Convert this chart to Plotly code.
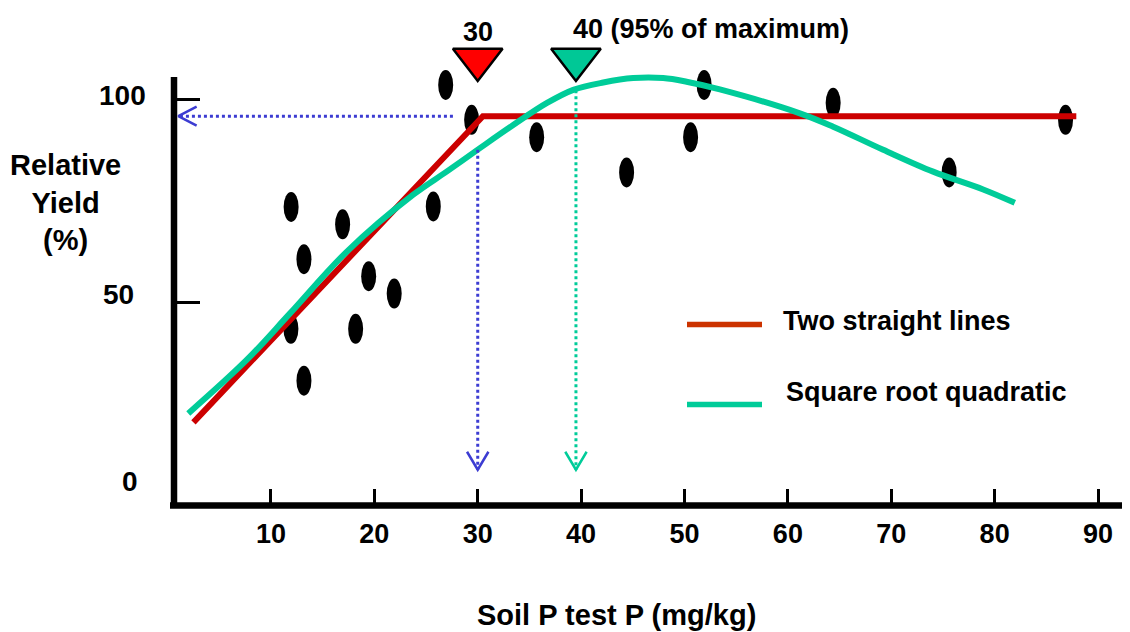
import plotly.graph_objects as go

# ---------------- data ----------------
soil_p = [11.95, 13.19, 11.93, 13.19, 16.93, 19.45, 18.19, 21.92, 25.70,
          26.90, 29.41, 35.70, 44.40, 50.59, 51.90, 64.38, 75.60, 86.86]
rel_yield = [73.6, 60.7, 43.5, 30.7, 69.3, 56.5, 43.5, 52.2, 73.7,
             103.7, 95.1, 90.8, 82.1, 90.8, 103.7, 99.3, 82.1, 95.1]

# two straight lines (linear-plateau) fit
lp_x = [2.5, 30.5, 87.9]
lp_y = [20.4, 96.0, 96.0]

# square root quadratic fit
sq_x = [2.0, 7.65, 11.84, 17.32, 23.76, 26.99, 30.21, 33.43, 36.66, 39.24,
        42.14, 45.04, 47.94, 50.20, 53.42, 61.16, 64.38, 69.22, 74.05, 78.89, 81.95]
sq_y = [22.6, 35.8, 47.3, 62.5, 76.6, 82.3, 88.1, 93.8, 99.2, 102.5,
        104.3, 105.4, 105.4, 104.5, 102.6, 96.7, 93.4, 87.7, 82.3, 77.9, 74.6]

critical_lp = 30      # two straight lines critical value
critical_sq = 39.5    # square root quadratic (95% of max)
plateau = 96.0
sq_at_crit = 102.4

x_ticks = [10, 20, 30, 40, 50, 60, 70, 80, 90]
y_tick_vals = [0, 50, 100]
y_tick_text = ["0", "50", "100"]

legend_names = ["Two straight lines", "Square root quadratic"]
legend_colors = ["#cc3300", "#00cc99"]

# ---------------- styling ----------------
OFF = 8                      # page body margin
W, H = 1130 - OFF, 632 - OFF
ML, MR, MT, MB = 174 - OFF, 2, 0, 127
X_RANGE = [0.62, 92.9]
Y_RANGE = [0, 122.7]
FONT = "Liberation Sans, Arial, Helvetica, sans-serif"
RED = "#cc0000"
GREEN = "#00cc99"
BLUE = "#3c3cd2"
YLAB_RIGHT = [140, 136, 148]     # screen px right edges of y tick labels
YLAB_SHIFT = [24, 8, 4]

plot_w = W - ML - MR
plot_h = H - MT - MB
ux = (X_RANGE[1] - X_RANGE[0]) / plot_w   # data units per pixel
uy = (Y_RANGE[1] - Y_RANGE[0]) / plot_h


def pxp(px):
    """screen pixel x -> paper"""
    return (px - OFF - ML) / plot_w


def pyp(py):
    """screen pixel y -> paper"""
    return (H - MB - (py - OFF)) / plot_h


fig = go.Figure()

# data points as ellipses
for xv, yv in zip(soil_p, rel_yield):
    fig.add_shape(type="circle", xref="x", yref="y",
                  x0=xv - 7.5 * ux, x1=xv + 7.5 * ux,
                  y0=yv - 15 * uy, y1=yv + 15 * uy,
                  fillcolor="black", line=dict(color="black", width=0),
                  layer="below")

# fits
fig.add_trace(go.Scatter(x=lp_x, y=lp_y, mode="lines",
                         line=dict(color=RED, width=6), showlegend=False))
fig.add_trace(go.Scatter(x=sq_x, y=sq_y, mode="lines",
                         line=dict(color=GREEN, width=6, shape="spline", smoothing=1.0),
                         showlegend=False))

# dotted guide lines
tip_y = 8.7
fig.add_trace(go.Scatter(x=[27.6, 1.04], y=[plateau, plateau], mode="lines",
                         line=dict(color=BLUE, width=3, dash="dot"), showlegend=False))
fig.add_trace(go.Scatter(x=[critical_lp, critical_lp], y=[87.7, tip_y], mode="lines",
                         line=dict(color=BLUE, width=3, dash="dot"), showlegend=False))
fig.add_trace(go.Scatter(x=[critical_sq, critical_sq], y=[sq_at_crit, tip_y], mode="lines",
                         line=dict(color=GREEN, width=3, dash="dot"), showlegend=False))


# open arrowheads
def v_head(xc, yc, color):
    fig.add_trace(go.Scatter(x=[xc - 10.7 * ux, xc, xc + 10.7 * ux],
                             y=[yc + 18 * uy, yc, yc + 18 * uy], mode="lines",
                             line=dict(color=color, width=2.5), showlegend=False))


v_head(critical_lp, tip_y, BLUE)
v_head(critical_sq, tip_y, GREEN)
xl = 1.04
fig.add_trace(go.Scatter(x=[xl + 18.3 * ux, xl, xl + 18.3 * ux],
                         y=[plateau + 9.5 * uy, plateau, plateau - 9.5 * uy], mode="lines",
                         line=dict(color=BLUE, width=2.5), showlegend=False))

# triangles marking critical values
fig.add_trace(go.Scatter(x=[critical_lp, critical_sq], y=[110.0, 110.0], mode="markers",
                         marker=dict(symbol="triangle-down", size=43,
                                     color=["#ff0000", "#00c896"],
                                     line=dict(color="black", width=2.5)),
                         showlegend=False, cliponaxis=False))

bold = dict(family=FONT, size=27, color="black", weight="bold")

fig.add_annotation(x=critical_lp, y=116.8, xref="x", yref="y", text=str(critical_lp),
                   showarrow=False, font=bold, xanchor="center", yanchor="middle")
fig.add_annotation(x=critical_sq, y=117.5, xref="x", yref="y", xshift=-5,
                   text="40 (95% of maximum)",
                   showarrow=False, font=bold, xanchor="left", yanchor="middle")

# axis lines
fig.add_shape(type="line", xref="paper", yref="paper",
              x0=pxp(170), x1=pxp(1128), y0=pyp(505.5), y1=pyp(505.5),
              line=dict(color="black", width=6.5))
fig.add_shape(type="line", xref="paper", yref="paper",
              x0=pxp(174), x1=pxp(174), y0=pyp(77), y1=pyp(508),
              line=dict(color="black", width=6.5))

# y tick labels
for v, t, rx, sh in zip(y_tick_vals, y_tick_text, YLAB_RIGHT, YLAB_SHIFT):
    fig.add_annotation(x=pxp(rx), y=v, xref="paper", yref="y", text=t,
                       showarrow=False, font=dict(bold, size=28), xanchor="right",
                       yanchor="middle", yshift=sh)

# axis titles
fig.add_annotation(x=pxp(65), y=pyp(202), xref="paper", yref="paper",
                   text="Relative<br>Yield<br>(%)", showarrow=False,
                   font=dict(bold, size=29),
                   align="center", xanchor="center", yanchor="middle")
fig.add_annotation(x=pxp(616), y=pyp(615), xref="paper", yref="paper",
                   text="Soil P test P (mg/kg)", showarrow=False,
                   font=dict(bold, size=29),
                   xanchor="center", yanchor="middle")

# legend (manual)
for i, (name, col) in enumerate(zip(legend_names, legend_colors)):
    ly = 324.5 + 80 * i
    fig.add_shape(type="line", xref="paper", yref="paper",
                  x0=pxp(687), x1=pxp(762), y0=pyp(ly), y1=pyp(ly),
                  line=dict(color=col, width=5.5))
    fig.add_annotation(x=pxp(781 + 3 * i), y=pyp(ly - 4 - 9 * i), xref="paper", yref="paper",
                       text=name, showarrow=False, font=bold,
                       xanchor="left", yanchor="middle")

fig.update_layout(
    width=W, height=H,
    margin=dict(l=ML, r=MR, t=MT, b=MB, pad=0),
    paper_bgcolor="white", plot_bgcolor="white",
    showlegend=False,
    xaxis=dict(range=X_RANGE, showgrid=False, zeroline=False, showline=False,
               tickmode="array", tickvals=x_ticks, ticks="inside", ticklen=16,
               tickwidth=2.5, tickcolor="black", ticklabelstandoff=10,
               tickfont=bold),
    yaxis=dict(range=Y_RANGE, showgrid=False, zeroline=False, showline=False,
               tickmode="array", tickvals=[50, 100], ticks="inside", ticklen=26,
               tickwidth=2.5, tickcolor="black", showticklabels=False),
)

fig.write_html("out.html")
